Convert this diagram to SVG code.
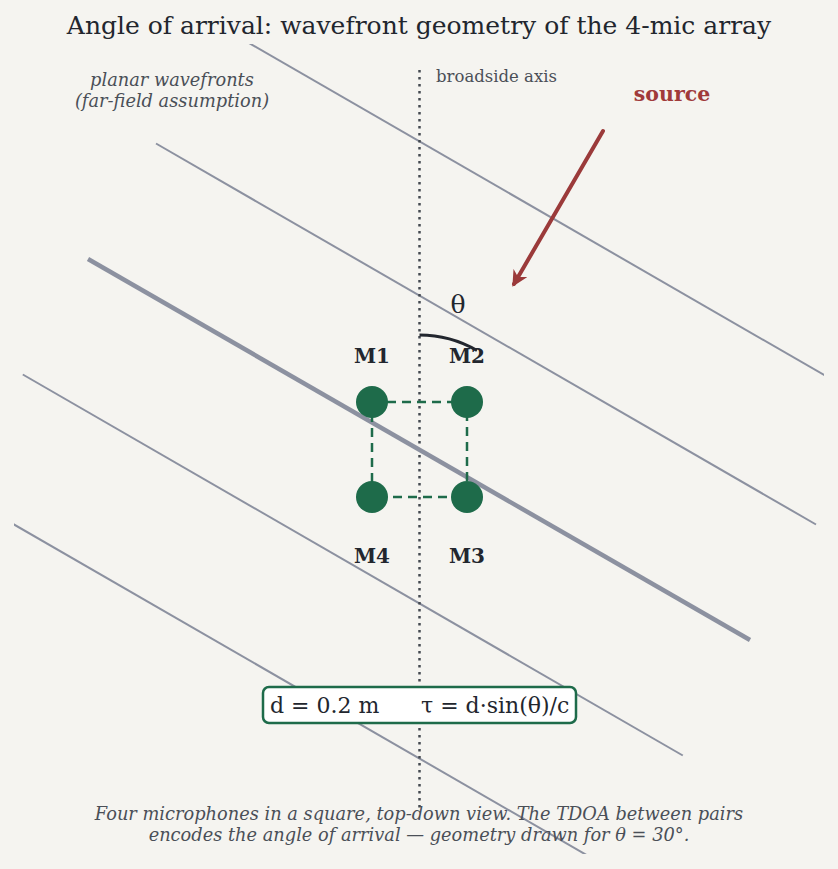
<svg xmlns="http://www.w3.org/2000/svg" width="838" height="869" viewBox="0 0 838 869">
<defs>
<style>
.t{font-family:"DejaVu Serif","Liberation Serif",serif;}
.title{font-size:25px;fill:#22262e;text-anchor:middle;}
.note{font-size:17.8px;fill:#4a4f57;font-style:italic;text-anchor:middle;}
.axl{font-size:16.5px;fill:#4a4f57;}
.mic{fill:#1e6b4a;}
.ml{font-size:20px;font-weight:bold;fill:#22262e;text-anchor:middle;}
.wf{stroke:#8c91a0;stroke-width:2;fill:none;}
</style>
<clipPath id="clip"><rect x="14" y="44" width="810" height="810"/></clipPath>
<marker id="ah" viewBox="0 0 10 10" refX="8" refY="5" markerWidth="4" markerHeight="4" orient="auto" markerUnits="strokeWidth">
<path d="M0,0 L10,5 L0,10 L3,5 Z" fill="#9b3a3a"/>
</marker>
</defs>
<rect width="838" height="869" fill="#f5f4f0"/>
<text class="t title" x="419" y="34">Angle of arrival: wavefront geometry of the 4-mic array</text>
<g id="wavefronts" clip-path="url(#clip)">
<line class="wf" x1="223" y1="28" x2="883" y2="409"/>
<line class="wf" x1="156" y1="143.5" x2="816" y2="524.5"/>
<line class="wf" x1="22.8" y1="374.5" x2="682.8" y2="755.5"/>
<line class="wf" x1="-44" y1="491" x2="616" y2="872"/>
</g>
<g id="axis">
<line x1="419.5" y1="70" x2="419.5" y2="812" stroke="#444950" stroke-width="2.5" stroke-dasharray="2.5 4.5"/>
<text class="t axl" x="436" y="82">broadside axis</text>
</g>
<line id="wavefront-main" x1="88" y1="259" x2="750" y2="640" stroke="#8c91a0" stroke-width="4.5"/>
<text class="t note" x="172" y="86">planar wavefronts</text>
<text class="t note" x="172" y="107">(far-field assumption)</text>
<g id="connectors">
<rect x="372" y="402" width="95" height="95" fill="none" stroke="#1e6b4a" stroke-width="2.5" stroke-dasharray="9 6"/>
<path d="M419.5,335 A114.5,114.5 0 0 1 477,350.5" fill="none" stroke="#22262e" stroke-width="3"/>
<line x1="603" y1="131" x2="514" y2="284" stroke="#9b3a3a" stroke-width="4" stroke-linecap="round" marker-end="url(#ah)"/>
</g>
<text class="t" x="458" y="313" font-size="25" fill="#22262e" text-anchor="middle">θ</text>
<g id="source"><text class="t" x="672" y="101" font-size="20.5" font-weight="bold" fill="#a03a3a" text-anchor="middle">source</text></g>
<g id="M1"><circle class="mic" cx="372" cy="402" r="16"/><text class="t ml" x="372" y="363">M1</text></g>
<g id="M2"><circle class="mic" cx="467" cy="402" r="16"/><text class="t ml" x="467" y="363">M2</text></g>
<g id="M3"><circle class="mic" cx="467" cy="497" r="16"/><text class="t ml" x="467" y="563">M3</text></g>
<g id="M4"><circle class="mic" cx="372" cy="497" r="16"/><text class="t ml" x="372" y="563">M4</text></g>
<g id="formula">
<rect x="263" y="687" width="313" height="36" rx="6" fill="#ffffff" stroke="#1e6b4a" stroke-width="2.5"/>
<text class="t" x="270" y="712.5" font-size="22" fill="#22262e">d = 0.2 m</text>
<text class="t" x="421" y="712.5" font-size="22" fill="#22262e">τ = d·sin(θ)/c</text>
</g>
<text class="t note" x="419" y="820">Four microphones in a square, top-down view. The TDOA between pairs</text>
<text class="t note" x="419" y="841">encodes the angle of arrival — geometry drawn for θ = 30°.</text>
</svg>
